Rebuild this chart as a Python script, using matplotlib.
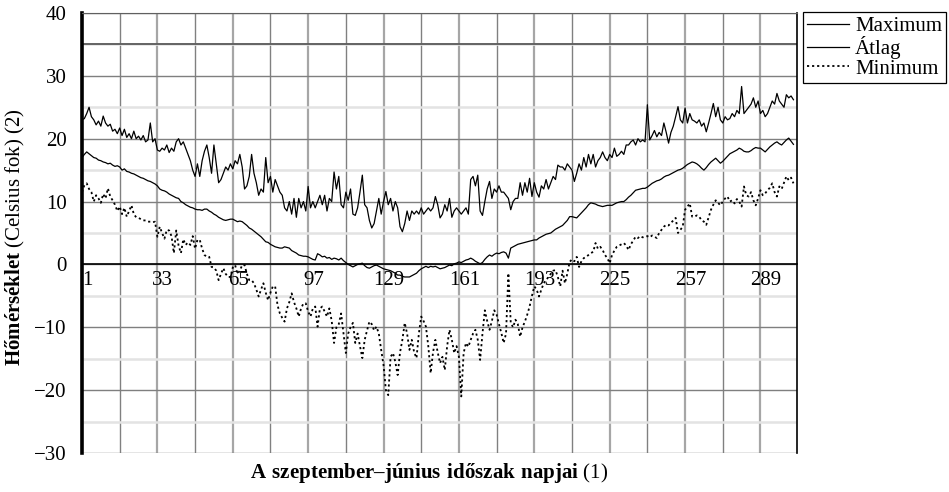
import numpy as np
import matplotlib
matplotlib.use("Agg")
import matplotlib.pyplot as plt
from matplotlib.transforms import ScaledTranslation

plt.rcParams['font.family'] = ['Liberation Serif', 'DejaVu Serif']
plt.rcParams['mathtext.fontset'] = 'custom'
plt.rcParams['mathtext.rm'] = 'Liberation Serif'
plt.rcParams['mathtext.bf'] = 'Liberation Serif:bold'

# napi hőmérsékletek, szeptember 1 - június 30
maximum = [
    23.0, 23.2, 24.0, 25.0, 23.5, 23.0, 22.2, 22.8, 22.0, 23.6,
    22.5, 22.0, 22.3, 21.2, 21.5, 20.8, 21.7, 20.5, 21.5, 20.2,
    20.8, 20.0, 21.2, 20.0, 20.4, 19.8, 20.5, 19.5, 19.8, 22.5,
    19.5, 20.0, 18.2, 18.0, 18.5, 18.2, 19.0, 17.8, 18.5, 18.0,
    19.5, 20.0, 19.0, 19.5, 18.5, 17.5, 16.5, 15.0, 14.0, 16.0,
    14.0, 16.5, 18.0, 19.0, 17.0, 14.5, 19.0, 16.0, 13.0, 13.5,
    14.5, 15.5, 15.0, 16.0, 15.2, 16.5, 16.0, 17.5, 15.5, 12.0,
    12.5, 14.0, 17.5, 14.5, 13.0, 11.0, 12.0, 11.5, 17.0, 13.0,
    14.0, 11.5, 13.5, 12.5, 11.5, 11.0, 9.0, 8.5, 10.0, 8.0,
    10.5, 7.5, 10.5, 9.0, 10.0, 8.5, 12.4, 9.0, 10.0, 9.0,
    10.0, 11.0, 9.5, 11.0, 8.5, 10.5, 10.0, 14.7, 12.0, 14.0,
    9.5, 9.0, 11.5, 10.2, 12.0, 8.0, 7.8, 9.0, 11.5, 14.2,
    9.5, 9.0, 7.0, 5.8, 6.5, 8.5, 10.5, 8.0, 10.0, 11.6,
    9.5, 10.5, 8.5, 10.0, 9.0, 6.0, 5.2, 6.5, 8.5, 7.0,
    8.5, 8.0, 8.5, 8.0, 9.0, 8.0, 8.5, 9.0, 8.5, 9.0,
    10.8, 9.5, 7.4, 8.0, 9.5, 8.5, 10.5, 7.5, 8.5, 9.0,
    8.5, 8.0, 8.5, 9.0, 8.0, 13.5, 14.0, 12.5, 14.2, 8.5,
    7.8, 10.0, 12.0, 13.2, 10.5, 12.0, 11.5, 12.5, 11.5, 11.5,
    11.0, 10.5, 8.7, 10.0, 10.5, 10.5, 13.0, 11.0, 13.0, 11.5,
    13.7, 10.8, 13.0, 11.5, 10.7, 12.5, 12.0, 13.5, 12.0, 13.0,
    14.0, 13.5, 15.8, 15.5, 15.5, 15.0, 16.0, 15.5, 15.0, 13.2,
    14.5, 16.0, 15.0, 17.0, 15.5, 17.5, 16.0, 17.5, 15.5, 16.5,
    17.0, 17.9, 17.0, 16.5, 17.5, 17.0, 18.5, 17.2, 17.5, 18.0,
    17.5, 19.0, 19.0, 19.5, 19.8, 19.0, 20.0, 19.5, 19.8, 19.5,
    25.4, 19.8, 20.5, 21.3, 20.3, 21.0, 20.5, 22.5, 21.0, 19.3,
    21.0, 22.0, 23.5, 25.1, 23.0, 22.5, 24.9, 22.5, 24.0, 23.0,
    22.8, 22.5, 23.0, 22.0, 22.5, 21.1, 22.5, 24.0, 25.6, 23.5,
    25.0, 23.0, 22.5, 23.5, 23.0, 23.2, 24.0, 23.5, 24.5, 24.0,
    28.3, 24.0, 24.5, 25.0, 25.5, 26.5, 25.0, 26.0, 24.0, 24.5,
    23.5, 24.0, 25.0, 26.0, 25.5, 27.2, 26.0, 25.5, 25.0, 27.0,
    26.5, 26.8, 26.2,
]

atlag = [
    17.0, 17.5, 17.9, 17.6, 17.3, 17.0, 16.9, 16.6, 16.5, 16.3,
    16.2, 16.0, 16.1, 15.8, 15.6, 15.7, 15.5, 15.0, 15.2, 14.8,
    14.7, 14.5, 14.4, 14.2, 14.0, 13.8, 13.7, 13.5, 13.3, 13.2,
    13.0, 12.8, 12.5, 12.0, 11.8, 11.7, 11.5, 11.2, 11.0, 10.8,
    10.6, 10.5, 10.0, 9.8, 9.5, 9.3, 9.1, 9.0, 8.8, 8.7,
    8.7, 8.6, 8.8, 8.8, 8.5, 8.3, 8.0, 7.8, 7.5, 7.3,
    7.1, 7.0, 7.1, 7.2, 7.2, 7.0, 6.8, 6.9, 6.8, 6.5,
    6.2, 5.8, 5.6, 5.3, 5.0, 4.7, 4.4, 4.0, 3.6, 3.5,
    3.2, 3.0, 2.8, 2.7, 2.6, 2.6, 2.8, 2.7, 2.6, 2.2,
    2.0, 1.8, 1.5, 1.4, 1.3, 1.3, 1.2, 1.0, 0.8, 0.7,
    1.7, 1.5, 1.2, 1.3, 1.0, 1.1, 0.8, 1.0, 0.9, 0.7,
    1.0, 0.6, 0.3, 0.0, -0.2, -0.4, -0.2, 0.0, 0.1, 0.2,
    -0.2, -0.5, -0.6, -0.4, -0.2, -0.1, -0.3, -0.5, -0.7, -0.8,
    -0.9, -1.0, -1.2, -1.4, -1.7, -1.7, -1.9, -2.0, -2.0, -2.0,
    -1.8, -1.6, -1.4, -1.0, -0.7, -0.5, -0.3, -0.5, -0.3, -0.4,
    -0.3, -0.5, -0.7, -0.6, -0.5, -0.3, -0.1, -0.2, 0.1, 0.2,
    0.4, 0.3, 0.5, 0.7, 0.8, 1.0, 0.8, 0.5, 0.3, 0.1,
    0.3, 0.8, 1.2, 1.5, 1.3, 1.6, 1.8, 1.7, 1.9, 2.0,
    1.8, 1.0, 2.6, 2.8, 3.0, 3.2, 3.3, 3.4, 3.5, 3.6,
    3.7, 3.8, 3.9, 3.9, 4.2, 4.4, 4.6, 4.8, 4.9, 5.0,
    5.3, 5.6, 5.8, 6.0, 6.2, 6.6, 7.0, 7.6, 7.6, 7.5,
    7.4, 7.8, 8.2, 8.6, 9.0, 9.5, 9.8, 9.7, 9.6, 9.4,
    9.3, 9.2, 9.3, 9.4, 9.4, 9.4, 9.6, 9.8, 9.9, 10.0,
    10.0, 10.3, 10.7, 11.0, 11.4, 11.8, 11.9, 12.0, 12.1, 12.1,
    12.3, 12.6, 12.9, 13.1, 13.3, 13.4, 13.6, 13.9, 14.1, 14.2,
    14.4, 14.6, 14.8, 15.0, 15.1, 15.3, 15.6, 15.9, 16.1, 16.3,
    16.2, 16.0, 15.7, 15.3, 15.0, 15.4, 15.9, 16.3, 16.6, 16.9,
    16.5, 16.1, 16.4, 16.8, 17.2, 17.6, 17.8, 18.0, 18.2, 18.5,
    18.3, 18.0, 17.9, 17.9, 18.1, 18.4, 18.6, 18.5, 18.5, 18.2,
    17.9, 18.3, 18.7, 19.0, 19.3, 19.5, 19.2, 19.0, 19.4, 19.8,
    20.1, 19.6, 19.1,
]

minimum = [
    11.5, 12.6, 12.9, 12.0, 11.5, 10.0, 11.0, 10.5, 9.8, 11.2,
    10.5, 12.1, 10.8, 10.2, 9.5, 8.5, 9.2, 8.0, 9.0, 7.6,
    8.5, 9.4, 8.0, 7.5, 7.4, 7.2, 7.0, 7.0, 6.8, 6.8,
    6.7, 6.8, 4.4, 6.0, 5.0, 4.1, 5.5, 5.4, 4.5, 1.8,
    5.4, 3.0, 1.8, 4.0, 3.1, 3.5, 3.1, 4.5, 2.5, 3.9,
    3.9, 2.5, 1.5, 1.2, 1.2, -0.4, -0.5, -1.0, -2.5, -1.5,
    -0.6, -1.5, -2.0, -2.0, -0.5, -0.1, -1.5, -1.0, -0.1, -0.1,
    -1.5, -2.5, -2.5, -3.0, -4.0, -5.1, -4.0, -3.0, -4.5, -5.7,
    -4.5, -3.5, -3.5, -6.5, -7.8, -8.5, -9.1, -7.0, -6.0, -4.6,
    -6.0, -7.0, -8.3, -7.0, -6.2, -6.2, -7.5, -8.3, -7.0, -6.7,
    -9.9, -7.0, -6.7, -7.5, -8.3, -7.0, -9.0, -12.5, -10.0, -9.5,
    -7.8, -11.0, -14.1, -11.0, -10.0, -9.3, -12.5, -11.0, -13.0, -14.9,
    -12.0, -10.5, -9.1, -9.5, -10.5, -9.9, -11.0, -13.6, -16.0, -20.0,
    -20.8, -14.7, -14.1, -15.5, -17.6, -14.0, -12.0, -9.3, -11.0, -13.6,
    -12.0, -14.0, -14.9, -11.0, -8.3, -9.0, -9.9, -13.0, -17.3, -14.0,
    -12.0, -14.0, -15.7, -14.7, -16.8, -13.0, -10.4, -12.0, -14.1, -13.0,
    -14.7, -21.0, -14.1, -12.5, -13.1, -12.0, -11.0, -10.4, -12.0, -15.2,
    -11.0, -7.3, -9.0, -10.4, -9.0, -7.3, -8.0, -9.5, -10.9, -12.5,
    -11.0, -1.4, -9.3, -10.0, -8.8, -9.5, -11.5, -10.0, -9.1, -8.0,
    -6.7, -5.0, -3.5, -4.0, -5.1, -4.0, -3.0, -2.5, -2.0, -1.5,
    -1.0, -0.9, -2.0, -3.5, -1.0, -3.0, -1.5, 0.4, 0.8, 0.5,
    1.2, -0.4, 0.5, 1.0, 1.2, 1.5, 1.8, 2.0, 3.4, 2.5,
    2.8, 2.3, 1.5, 1.0, 0.2, 1.5, 2.2, 2.8, 3.0, 3.2,
    3.4, 3.0, 2.3, 3.2, 3.8, 4.4, 4.2, 4.5, 4.3, 4.4,
    4.5, 4.3, 4.6, 4.4, 4.2, 5.0, 5.5, 6.0, 6.3, 6.2,
    6.6, 7.0, 7.4, 5.0, 5.5, 6.0, 8.7, 9.2, 9.7, 7.6,
    7.6, 7.8, 7.6, 7.0, 6.8, 6.3, 7.5, 8.7, 9.5, 10.2,
    9.8, 9.4, 10.0, 10.5, 10.8, 10.0, 10.2, 9.7, 10.4, 10.0,
    9.2, 12.4, 11.0, 10.8, 11.5, 10.2, 9.4, 10.5, 11.8, 11.0,
    11.3, 11.8, 12.2, 12.9, 11.5, 10.8, 12.4, 12.0, 13.0, 14.0,
    13.4, 13.8, 12.9,
]

napok = np.arange(1, len(atlag) + 1)
cimkek = [1, 33, 65, 97, 129, 161, 193, 225, 257, 289]
koztes = [17, 49, 81, 113, 145, 177, 209, 241, 273]

fig = plt.figure(figsize=(9.49, 4.92), dpi=100)
ax = fig.add_axes([0.0864, 0.0793, 0.7534, 0.8943])

ax.plot(napok, maximum, color='black', lw=0.9, label='Maximum')
ax.plot(napok, atlag, color='black', lw=0.9, label='Átlag')
ax.plot(napok, minimum, color='black', lw=1.3, linestyle=(0, (1.2, 1.6)), label='Minimum')

ax.set_xlim(1, 304.5)
ax.set_ylim(-30, 40)

# rácsvonalak
ax.set_yticks(np.arange(-30, 41, 10))
ax.set_yticks(np.arange(-25, 36, 10), minor=True)
ax.set_xticks(cimkek)
ax.set_xticks(koztes, minor=True)
ax.grid(axis='y', which='major', color='#7f7f7f', lw=1.0)
ax.grid(axis='y', which='minor', color='#e3e3e3', lw=1.8)
ax.grid(axis='x', which='major', color='#a6a6a6', lw=1.6)
ax.grid(axis='x', which='minor', color='#808080', lw=1.0)
ax.axhline(35, color='#404040', lw=1.1, zorder=0.6)
ax.set_axisbelow(True)

ax.spines['bottom'].set_position(('data', 0))
ax.spines['bottom'].set_linewidth(1.2)
ax.spines['top'].set_color('#606060')
ax.spines['right'].set_linewidth(1.2)
ax.spines['left'].set_linewidth(2.6)

ax.tick_params(axis='both', which='both', length=0)
ax.tick_params(axis='x', pad=5, labelsize=15)
ax.tick_params(axis='y', pad=11, labelsize=15)

fig.canvas.draw()
eltolas = ScaledTranslation(4 / 72, 0, fig.dpi_scale_trans)
for lbl in ax.get_xticklabels():
    lbl.set_transform(lbl.get_transform() + eltolas)
ax.get_xticklabels()[0].set_bbox(dict(facecolor='white', edgecolor='none', pad=1))

ax.set_ylabel(r'$\mathbf{Hőmérséklet}$ (Celsius fok) (2)', fontsize=15)
ax.yaxis.set_label_coords(-0.077, 0.49)
ax.set_xlabel(r'$\mathbf{A\ szeptember–június\ időszak\ napjai}$ (1)', fontsize=15)
ax.xaxis.set_label_coords(0.485, -0.018)

leg = fig.legend(loc='upper left', bbox_to_anchor=(0.846, 0.975), fontsize=15,
                 frameon=True, fancybox=False, edgecolor='black', framealpha=1,
                 handlelength=2.0, handletextpad=0.3, labelspacing=0.0,
                 borderpad=0.2, borderaxespad=0)
leg.get_frame().set_linewidth(0.9)

fig.savefig('out.png', dpi=100)
